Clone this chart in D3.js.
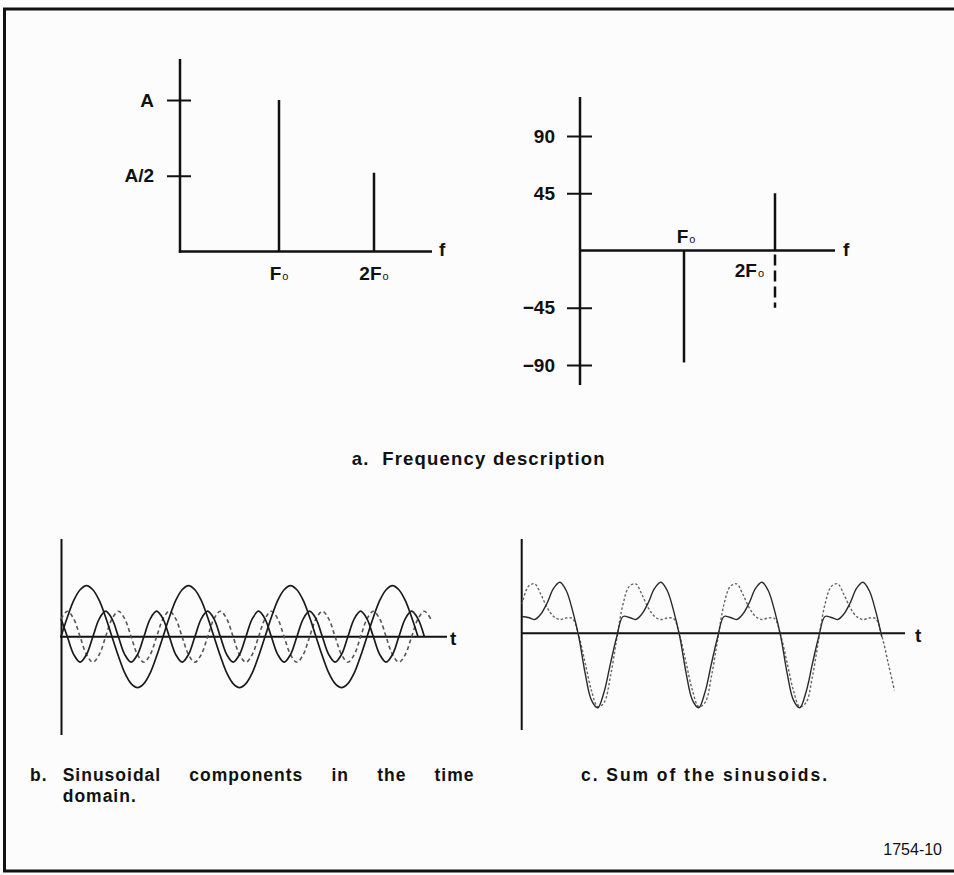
<!DOCTYPE html>
<html>
<head>
<meta charset="utf-8">
<script src="https://cdn.jsdelivr.net/npm/d3@7"></script>
<style>
  html, body { margin: 0; padding: 0; background: #fcfcfc; }
  svg { display: block; }
  text { font-family: "Liberation Sans", Arial, Helvetica, sans-serif; fill: #111; }
</style>
</head>
<body>
<svg id="chart" width="954" height="875"></svg>
<script>
// ---- Frequency description ----
const harmonics = [1, 2];                 // multiples of F0
const harmonicPrefix = ["", "2"];
const amplitudes = [1, 0.52];             // in units of A
const ampTicks = [1, 0.5];
const ampTickLabels = ["A", "A/2"];
const phases = [-88, 45];                 // degrees, solid bars
const altPhase2 = -45;                    // dashed alternative phase of 2F0
const phaseTicks = [90, 45, -45, -90];

// ---- Time domain, one sample every 1/16 of the fundamental period (units of A) ----
const sampleStep = 1 / 16;
const fundamental = [
  0, 0.38, 0.71, 0.92, 1, 0.92, 0.71, 0.38, 0, -0.38, -0.71, -0.92, -1, -0.92, -0.71, -0.38,
  0, 0.38, 0.71, 0.92, 1, 0.92, 0.71, 0.38, 0, -0.38, -0.71, -0.92, -1, -0.92, -0.71, -0.38,
  0, 0.38, 0.71, 0.92, 1, 0.92, 0.71, 0.38, 0, -0.38, -0.71, -0.92, -1, -0.92, -0.71, -0.38,
  0, 0.38, 0.71, 0.92, 1, 0.92, 0.71, 0.38, 0
];
const secondSolid = [
  0.35, 0, -0.35, -0.5, -0.35, 0, 0.35, 0.5, 0.35, 0, -0.35, -0.5, -0.35, 0, 0.35, 0.5,
  0.35, 0, -0.35, -0.5, -0.35, 0, 0.35, 0.5, 0.35, 0, -0.35, -0.5, -0.35, 0, 0.35, 0.5,
  0.35, 0, -0.35, -0.5, -0.35, 0, 0.35, 0.5, 0.35, 0, -0.35, -0.5, -0.35, 0, 0.35, 0.5,
  0.35, 0, -0.35, -0.5, -0.35, 0, 0.35, 0.5, 0.35, 0
];
const secondDashed = [
  0.35, 0.5, 0.35, 0, -0.35, -0.5, -0.35, 0, 0.35, 0.5, 0.35, 0, -0.35, -0.5, -0.35, 0,
  0.35, 0.5, 0.35, 0, -0.35, -0.5, -0.35, 0, 0.35, 0.5, 0.35, 0, -0.35, -0.5, -0.35, 0,
  0.35, 0.5, 0.35, 0, -0.35, -0.5, -0.35, 0, 0.35, 0.5, 0.35, 0, -0.35, -0.5, -0.35, 0,
  0.35, 0.5, 0.35, 0, -0.35, -0.5, -0.35, 0, 0.35, 0.5, 0.35
];
const sumSolid = [
  0.33, 0.31, 0.27, 0.38, 0.60, 0.88, 1.00, 0.84, 0.45, -0.07, -0.78, -1.31, -1.46, -1.15, -0.60, -0.07,
  0.33, 0.31, 0.27, 0.38, 0.60, 0.88, 1.00, 0.84, 0.45, -0.07, -0.78, -1.31, -1.46, -1.15, -0.60, -0.07,
  0.33, 0.31, 0.27, 0.38, 0.60, 0.88, 1.00, 0.84, 0.45, -0.07, -0.78, -1.31, -1.46, -1.15, -0.60, -0.07,
  0.33, 0.31, 0.27, 0.38, 0.60, 0.88, 1.00, 0.84, 0.45, -0.07
];
const sumDashed = [
  0.57, 0.92, 0.97, 0.76, 0.50, 0.33, 0.27, 0.30, 0.29, -0.05, -0.58, -1.12, -1.44, -1.36, -0.85, -0.12,
  0.57, 0.92, 0.97, 0.76, 0.50, 0.33, 0.27, 0.30, 0.29, -0.05, -0.58, -1.12, -1.44, -1.36, -0.85, -0.12,
  0.57, 0.92, 0.97, 0.76, 0.50, 0.33, 0.27, 0.30, 0.29, -0.05, -0.58, -1.12, -1.44, -1.36, -0.85, -0.12,
  0.57, 0.92, 0.97, 0.76, 0.50, 0.33, 0.27, 0.30, 0.29, -0.05, -0.58, -1.12
];

// ---- Captions ----
const titleA = "a.  Frequency description";
const captionB = ["Sinusoidal", "components", "in", "the", "time"];
const captionB2 = "domain.";
const captionC = "c. Sum of the sinusoids.";
const figureId = "1754-10";

const INK = "#111";
const svg = d3.select("#chart");

// frame
svg.append("path")
  .attr("d", "M3,9H954M4.5,9V872M3,871H954")
  .attr("fill", "none").attr("stroke", INK).attr("stroke-width", 3);

function styleAxis(g, fontSize) {
  g.select(".domain").remove();
  g.selectAll(".tick text")
    .style("font-size", fontSize + "px")
    .style("font-weight", "bold")
    .style("font-family", "'Liberation Sans', Arial, sans-serif")
    .attr("fill", INK);
  g.selectAll(".tick line").attr("stroke", INK).attr("stroke-width", 2);
}

function freqLabel(g, x, y, prefix, anchor) {
  const t = g.append("text")
    .attr("x", x).attr("y", y)
    .attr("text-anchor", anchor || "middle")
    .style("font-size", "19px").style("font-weight", "bold");
  t.append("tspan").text(prefix + "F");
  t.append("tspan").attr("dx", 1).style("font-size", "11px").style("font-weight", "normal").text("o");
}

function axisLetter(x, y, s) {
  svg.append("text").attr("x", x).attr("y", y)
    .style("font-size", "19px").style("font-weight", "bold").text(s);
}

// ---- a (left): amplitude spectrum ----
const xL = d3.scaleLinear().domain([0, 1, 2]).range([180, 279, 374]);
const yL = d3.scaleLinear().domain([0, 1]).range([251.5, 100]);
const gL = svg.append("g");
gL.append("line").attr("x1", 180).attr("x2", 180).attr("y1", 59).attr("y2", 252.7)
  .attr("stroke", INK).attr("stroke-width", 2.5);
gL.append("line").attr("x1", 178.8).attr("x2", 432).attr("y1", yL(0)).attr("y2", yL(0))
  .attr("stroke", INK).attr("stroke-width", 2.5);
const axL = gL.append("g").attr("transform", "translate(180,0)")
  .call(d3.axisLeft(yL).tickValues(ampTicks)
    .tickFormat((d, i) => ampTickLabels[i]).tickSize(13).tickPadding(13));
styleAxis(axL, 19);
axL.selectAll(".tick line").attr("x1", 11);
gL.selectAll("line.bar").data(harmonics).join("line").attr("class", "bar")
  .attr("x1", d => xL(d)).attr("x2", d => xL(d))
  .attr("y1", yL(0)).attr("y2", (d, i) => yL(amplitudes[i]))
  .attr("stroke", INK).attr("stroke-width", 2.5);
harmonics.forEach((h, i) => freqLabel(gL, xL(h), 280, harmonicPrefix[i]));
axisLetter(439, 256, "f");

// ---- a (right): phase spectrum ----
const xR = d3.scaleLinear().domain([0, 1, 2]).range([580, 684, 775]);
const yR = d3.scaleLinear().domain([-90, 90]).range([365, 136]);
const gR = svg.append("g");
gR.append("line").attr("x1", 580).attr("x2", 580).attr("y1", 97).attr("y2", 385)
  .attr("stroke", INK).attr("stroke-width", 2.5);
gR.append("line").attr("x1", 580).attr("x2", 835).attr("y1", yR(0)).attr("y2", yR(0))
  .attr("stroke", INK).attr("stroke-width", 2.5);
const axR = gR.append("g").attr("transform", "translate(580,0)")
  .call(d3.axisLeft(yR).tickValues(phaseTicks)
    .tickFormat(d => d < 0 ? "\u2212" + Math.abs(d) : String(d)).tickSize(13).tickPadding(12));
styleAxis(axR, 19);
axR.selectAll(".tick line").attr("x1", 12);
gR.selectAll("line.bar").data(harmonics).join("line").attr("class", "bar")
  .attr("x1", d => xR(d)).attr("x2", d => xR(d))
  .attr("y1", yR(0)).attr("y2", (d, i) => yR(phases[i]))
  .attr("stroke", INK).attr("stroke-width", 2.5);
gR.append("line")
  .attr("x1", xR(2)).attr("x2", xR(2)).attr("y1", yR(0) + 4).attr("y2", yR(altPhase2))
  .attr("stroke", INK).attr("stroke-width", 2.5).attr("stroke-dasharray", "11,5");
freqLabel(gR, xR(1) + 2, 243, harmonicPrefix[0]);
freqLabel(gR, xR(2) - 11, 277, harmonicPrefix[1], "end");
axisLetter(843, 256, "f");

svg.append("text").attr("x", 351.7).attr("y", 465)
  .style("font-size", "18.5px").style("font-weight", "bold")
  .style("letter-spacing", "1.2px").style("white-space", "pre")
  .text(titleA);

// ---- b: components in time ----
const xB = d3.scaleLinear().domain([0, 3.5]).range([61, 418]);
const yB = d3.scaleLinear().domain([-1, 1]).range([687.7, 585.7]);
svg.append("line").attr("x1", 61.5).attr("x2", 61.5).attr("y1", 539).attr("y2", 735)
  .attr("stroke", INK).attr("stroke-width", 2);
svg.append("line").attr("x1", 60).attr("x2", 447).attr("y1", yB(0)).attr("y2", yB(0))
  .attr("stroke", INK).attr("stroke-width", 2);
const lineB = d3.line().x((d, i) => xB(i * sampleStep)).y(d => yB(d))
  .curve(d3.curveCatmullRom.alpha(0.5));
svg.append("path").attr("d", lineB(secondDashed)).attr("fill", "none")
  .attr("stroke", "#555").attr("stroke-width", 1.6).attr("stroke-dasharray", "4,3");
svg.append("path").attr("d", lineB(secondSolid)).attr("fill", "none")
  .attr("stroke", "#1a1a1a").attr("stroke-width", 1.7);
svg.append("path").attr("d", lineB(fundamental)).attr("fill", "none")
  .attr("stroke", "#1a1a1a").attr("stroke-width", 1.7);
axisLetter(450, 645, "t");

// ---- c: sum of the sinusoids ----
const xC = d3.scaleLinear().domain([0, 1]).range([522, 623]);
const yC = d3.scaleLinear().domain([-1, 1]).range([684.3, 582.3]);
svg.append("line").attr("x1", 521.7).attr("x2", 521.7).attr("y1", 539).attr("y2", 730)
  .attr("stroke", INK).attr("stroke-width", 2);
svg.append("line").attr("x1", 521).attr("x2", 905).attr("y1", yC(0)).attr("y2", yC(0))
  .attr("stroke", INK).attr("stroke-width", 2);
const lineC = d3.line().x((d, i) => xC(i * sampleStep)).y(d => yC(d))
  .curve(d3.curveCatmullRom.alpha(0.5));
svg.append("path").attr("d", lineC(sumDashed)).attr("fill", "none")
  .attr("stroke", "#666").attr("stroke-width", 1.4).attr("stroke-dasharray", "2.5,2");
svg.append("path").attr("d", lineC(sumSolid)).attr("fill", "none")
  .attr("stroke", "#2a2a2a").attr("stroke-width", 1.4);
axisLetter(915, 642, "t");

// ---- captions ----
const capStyle = s => s.style("font-size", "17.5px").style("font-weight", "bold")
  .style("letter-spacing", "1px");
svg.append("text").attr("x", 30).attr("y", 781).call(capStyle).text("b.");
// justified first line of caption b
const wordNodes = captionB.map(w => svg.append("text").attr("y", 781).call(capStyle).text(w));
const widths = wordNodes.map(n => n.node().getComputedTextLength());
const lineStart = 62.7, lineEnd = 474.5;
const gap = (lineEnd - lineStart - d3.sum(widths)) / (captionB.length - 1);
let cx = lineStart;
wordNodes.forEach((n, i) => { n.attr("x", cx); cx += widths[i] + gap; });
svg.append("text").attr("x", 62.7).attr("y", 802).call(capStyle).text(captionB2);
svg.append("text").attr("x", 581).attr("y", 781).call(capStyle)
  .attr("textLength", 247).attr("lengthAdjust", "spacing").text(captionC);
svg.append("text").attr("x", 942).attr("y", 855).attr("text-anchor", "end")
  .style("font-size", "16px").text(figureId);
</script>
</body>
</html>
